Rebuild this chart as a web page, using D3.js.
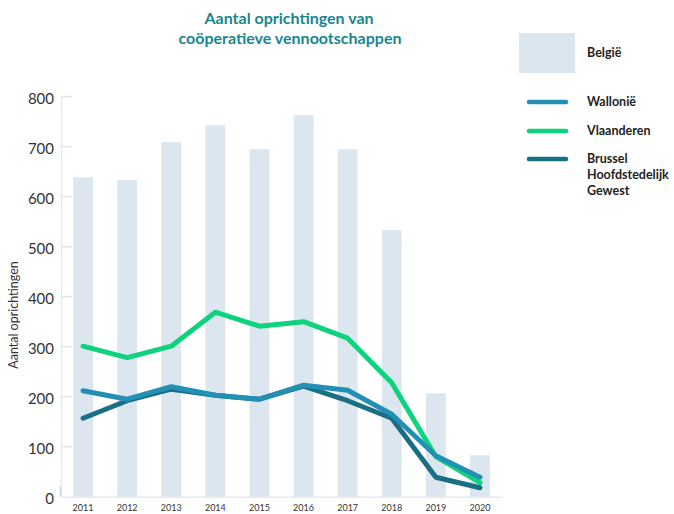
<!DOCTYPE html>
<html lang="nl">
<head>
  <meta charset="UTF-8">
  <title>Aantal oprichtingen van coöperatieve vennootschappen</title>
  <script src="https://d3js.org/d3.v7.min.js"></script>
  <style>
    body {
      margin: 0;
      background: #fff;
      font-family: Lato, 'Noto Sans', sans-serif;
    }
    .title { font-size: 16px; font-weight: bold; fill: #17878f; }
    .legend-text { font-size: 12.5px; font-weight: bold; fill: #222; }
    .axis-label { font-size: 12.5px; fill: #333; }
  </style>
</head>
<body>
  <svg id="chart" width="674" height="514"></svg>

  <script>
    const years = ["2011", "2012", "2013", "2014", "2015", "2016", "2017", "2018", "2019", "2020"];
    const belgie = [639, 633, 709, 743, 695, 763, 695, 533, 207, 83];
    const wallonie = [212, 195, 220, 203, 195, 223, 213, 165, 82, 39];
    const vlaanderen = [301, 278, 301, 369, 341, 350, 317, 228, 80, 28];
    const brussel = [157, 192, 215, 203, 195, 221, 192, 157, 39, 18];
    const yTicks = [0, 100, 200, 300, 400, 500, 600, 700, 800];

    const series = [
      { name: "Brussel", values: brussel, color: "#1b6f84" },
      { name: "Vlaanderen", values: vlaanderen, color: "#0fd27e" },
      { name: "Wallonië", values: wallonie, color: "#2290b4" }
    ];

    const svg = d3.select("#chart");
    const plotLeft = 61, plotRight = 502, plotTop = 96.7, plotBottom = 496.7;

    const x = d3.scaleBand()
      .domain(years)
      .range([plotLeft, plotRight])
      .paddingInner(0.55)
      .paddingOuter(0.275);

    const y = d3.scaleLinear()
      .domain([0, 800])
      .range([plotBottom, plotTop]);

    // title
    svg.append("text").attr("class", "title")
      .attr("x", 289).attr("y", 24).attr("text-anchor", "middle")
      .text("Aantal oprichtingen van");
    svg.append("text").attr("class", "title")
      .attr("x", 290).attr("y", 44).attr("text-anchor", "middle")
      .text("coöperatieve vennootschappen");

    // bars (België)
    svg.selectAll(".bar")
      .data(years)
      .enter()
      .append("rect")
      .attr("class", "bar")
      .attr("x", d => x(d))
      .attr("y", (d, i) => y(belgie[i]))
      .attr("width", x.bandwidth())
      .attr("height", (d, i) => plotBottom - y(belgie[i]))
      .attr("fill", "#dce6ef");

    // y axis
    const yAxis = svg.append("g")
      .attr("transform", `translate(${plotLeft},0)`)
      .call(d3.axisLeft(y).tickValues(yTicks).tickSize(0).tickPadding(7));
    yAxis.select(".domain").attr("stroke", "#e3eaf2").attr("stroke-width", 1.5);
    yAxis.selectAll("text")
      .attr("font-size", 15)
      .attr("dy", "0.45em")
      .attr("font-family", "Lato, 'Noto Sans', sans-serif")
      .attr("fill", "#333");

    // short tick marks inside plot
    svg.selectAll(".ytick")
      .data(yTicks.slice(1))
      .enter()
      .append("line")
      .attr("x1", plotLeft).attr("x2", plotLeft + 11)
      .attr("y1", d => y(d)).attr("y2", d => y(d))
      .attr("stroke", "#e3eaf2").attr("stroke-width", 2);

    svg.append("line")
      .attr("x1", plotLeft - 0.5).attr("x2", plotLeft - 0.5)
      .attr("y1", plotBottom - 10).attr("y2", plotBottom)
      .attr("stroke", "#cfd6dd").attr("stroke-width", 1.5);

    // x axis
    const xAxis = svg.append("g")
      .attr("transform", `translate(0,${plotBottom})`)
      .call(d3.axisBottom(x).tickSize(0).tickPadding(8));
    xAxis.select(".domain").attr("stroke", "#e3eaf2").attr("stroke-width", 1.5);
    xAxis.selectAll("text")
      .attr("font-size", 9)
      .attr("font-family", "Lato, 'Noto Sans', sans-serif")
      .attr("fill", "#333");

    // y axis label
    svg.append("text").attr("class", "axis-label")
      .attr("transform", "rotate(-90)")
      .attr("x", -315).attr("y", 18)
      .attr("text-anchor", "middle")
      .text("Aantal oprichtingen");

    // lines
    const line = d3.line()
      .x((d, i) => x(years[i]) + x.bandwidth() / 2)
      .y(d => y(d));

    series.forEach(s => {
      svg.append("path")
        .datum(s.values)
        .attr("fill", "none")
        .attr("stroke", s.color)
        .attr("stroke-width", 5)
        .attr("stroke-linecap", "round")
        .attr("stroke-linejoin", "round")
        .attr("d", line);
    });

    // legend
    svg.append("rect")
      .attr("x", 519).attr("y", 33).attr("width", 56).attr("height", 40)
      .attr("fill", "#dce6ef");
    svg.append("text").attr("class", "legend-text")
      .attr("x", 587).attr("y", 57).text("België");

    const legendItems = [
      { lines: ["Wallonië"], color: "#2290b4", y: 102 },
      { lines: ["Vlaanderen"], color: "#0fd27e", y: 131 },
      { lines: ["Brussel", "Hoofdstedelijk", "Gewest"], color: "#15707f", y: 159 }
    ];

    legendItems.forEach(item => {
      svg.append("line")
        .attr("x1", 529).attr("x2", 566)
        .attr("y1", item.y).attr("y2", item.y)
        .attr("stroke", item.color)
        .attr("stroke-width", 4.5)
        .attr("stroke-linecap", "round");
      item.lines.forEach((t, j) => {
        svg.append("text").attr("class", "legend-text")
          .attr("x", 587).attr("y", item.y + 4 + j * 16)
          .text(t);
      });
    });
  </script>
</body>
</html>
